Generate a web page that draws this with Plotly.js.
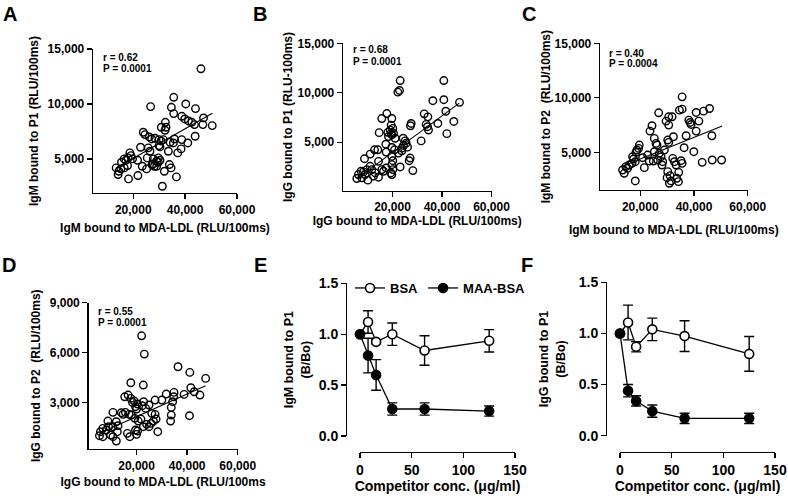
<!DOCTYPE html>
<html><head><meta charset="utf-8">
<script src="https://cdn.plot.ly/plotly-3.0.1.min.js"></script>
<style>html,body{margin:0;padding:0;background:#fff}#chart{width:788px;height:499px}</style>
</head><body><div id="chart"></div>
<script>
// ---------- DATA ----------
// Panel A: IgM MDA-LDL vs IgM P1
const aX = [46100,26710,35610,40260,44000,34710,35610,38710,39870,41290,42580,47100,46840,50450,43610,32390,30840,32260,32650,43870,23870,24520,26190,27100,28390,29940,30710,31610,35870,38710,41030,34190,35480,22840,25810,26450,29940,30320,38450,37160,33550,18710,19100,18060,17160,16520,15480,19740,21680,25420,27740,29680,30320,29680,29030,23480,25160,27230,28130,29030,27740,33940,34580,32000,13420,14190,15230,16520,17810,14450,18190,21810,36650,31230];
const aY = [13200,9758,10606,10000,9576,9697,9122,8879,8637,8455,8334,8728,8122,8031,8122,8334,7880,7607,7880,7061,7425,7213,7001,6819,6880,6758,6637,6758,6819,6758,6455,6516,6455,6061,6001,5698,6213,6092,5910,5546,5698,5546,5304,5092,4880,5001,4698,5001,4880,5092,5001,5092,4880,4698,4789,4334,4092,4486,4334,4334,4547,4486,4183,3880,4183,3577,4092,4183,4395,3880,3183,3486,3365,2516];
const aFitX = [13300, 50500];
const aFitY = [4150, 9150];

// Panel B: IgG MDA-LDL vs IgG P1
const bX = [23100,22830,22150,40740,40740,36300,47070,41550,32800,34280,38320,44780,33600,34140,34550,41950,31580,27540,27270,17710,15690,19730,19460,20130,18110,19460,20400,14610,18380,21080,19730,19060,24310,25120,25520,24440,26060,23770,17310,19730,20810,22420,23770,10980,12730,14070,8690,14340,17440,19730,20130,26730,27140,23100,28220,19730,20130,10980,9630,8280,15690,16360,17440,13000,14340,7340,6260,5590,7610,10030,11650,19330,19730,8960,12320];
const bY = [11233,10233,10067,11233,9300,9200,9033,8133,7867,7567,6900,7100,6800,6567,6233,5867,5133,6900,6667,7900,7400,7400,6733,6400,6000,5900,5900,5967,5567,5400,5733,6233,5400,5133,4900,4667,4500,4400,4800,4467,4233,3900,4133,3800,4233,4233,3333,3067,4000,3567,3133,3133,3400,2500,2133,2733,2233,2567,2233,2000,2233,2067,2400,1900,1467,2067,1733,1333,1400,1167,2233,1900,1733,1733,1567];
const bFitX = [5500, 47000];
const bFitY = [1300, 8950];

// Panel C: IgM MDA-LDL vs IgM P2
const cX = [35575,34580,35575,26850,30590,31840,29590,30590,40810,43550,45790,38070,38570,38940,41810,40810,37070,46660,24360,23610,25230,25860,26230,30220,30590,32340,19630,18750,18380,19380,17130,17510,22740,25230,27100,27730,28970,36320,39940,23360,24860,21500,28100,32090,32710,33330,35200,35580,43050,46790,50280,30220,31090,29970,31460,33580,34200,30840,34330,13400,14020,15270,15890,18130,16890,18130,14640,20870,26480,28350];
const cY = [10091,8872,8963,8628,8262,8262,7866,7500,8658,8780,9024,7957,7744,7561,7866,6951,6524,6524,7439,6951,6280,5823,5670,6128,5914,6433,5670,5213,5000,5366,4603,4390,4756,5061,4908,4603,5213,5427,5061,4207,4207,3597,3841,4451,4146,3841,4238,3994,4085,4299,4299,3231,2866,2683,2378,2622,2317,2164,3170,3384,3079,3536,3841,4146,3994,2378,3689,4512,4299,4146];
const cFitX = [12800, 50500];
const cFitY = [3690, 7410];

// Panel D: IgG MDA-LDL vs IgG P2
const dX = [22000,23070,36400,41070,47330,17730,22670,41470,42800,45070,38800,34800,34670,34270,31730,33730,33730,33470,40930,27330,24930,23600,22800,22270,20400,19070,19600,20000,15330,16670,17730,18400,14000,14670,15600,17070,18000,19330,20670,21730,26000,27330,27730,26670,25730,24000,24930,28400,10670,8670,12000,12670,10670,8930,8000,6670,5730,5330,6670,9730,10670,12400,12000,16400,17330,20000,20400,19600,22670,30000];
const dY = [7000,5900,5140,4800,4440,4180,4040,3880,3640,3440,3480,3600,3340,3040,3500,2700,2240,1880,2200,3140,2840,2640,3040,2800,2900,3080,2740,2600,3340,3440,3240,3000,2380,2280,2400,2280,2240,2040,1880,2000,2340,2280,2000,1880,1740,1680,1540,1240,2400,1880,1840,1600,1540,1540,1340,1440,1240,1000,940,1040,940,1240,680,1140,940,1080,1280,1340,1540,3140];
const dFitX = [5300, 47300];
const dFitY = [1140, 4000];

// Panels E/F: competition assays
const conc = [0, 7.8, 15.6, 31.25, 62.5, 125];
const eBSA = [1.0, 1.12, 0.925, 1.0, 0.84, 0.935];
const eBSAerr = [0, 0.11, 0.02, 0.11, 0.145, 0.11];
const eMAA = [1.0, 0.79, 0.60, 0.265, 0.265, 0.245];
const eMAAerr = [0, 0.17, 0.15, 0.06, 0.06, 0.05];
const fBSA = [1.0, 1.107, 0.87, 1.04, 0.974, 0.80];
const fBSAerr = [0, 0.17, 0.05, 0.11, 0.15, 0.17];
const fMAA = [1.0, 0.44, 0.34, 0.24, 0.17, 0.17];
const fMAAerr = [0, 0.06, 0.05, 0.06, 0.05, 0.05];

const xTicksScatter = [20000, 40000, 60000];
const yTicksP1 = [5000, 10000, 15000];
const yTicksD = [3000, 6000, 9000];
const xTicksConc = [0, 50, 100, 150];
const yTicksRatio = [0, 0.5, 1.0, 1.5];

// ---------- HELPERS ----------
const W = 788, H = 499;
const px = v => v / W;
const py = v => 1 - v / H;
const FONT = 'Liberation Sans, Arial, sans-serif';

function axis(o) {
  return Object.assign({
    showgrid: false, zeroline: false, showline: true, linecolor: '#000', linewidth: 1.3,
    ticks: 'outside', ticklen: 5, tickwidth: 1.3, tickcolor: '#000',
    tickmode: 'array', tickformat: ',d',
    tickfont: {family: FONT, size: 12, color: '#000', weight: 'bold'},
    fixedrange: true
  }, o);
}
function title(text, standoff, size) {
  return {text: text, standoff: standoff, font: {family: FONT, size: size || 12, color: '#000', weight: 'bold'}};
}
const bigTick = {family: FONT, size: 14, color: '#000', weight: 'bold'};

const scatterMarker = {symbol: 'circle-open', size: 7.5, color: '#000', line: {width: 1.4, color: '#000'}};

function scatterTraces(xs, ys, fx, fy, xa, ya) {
  return [
    {x: xs, y: ys, type: 'scatter', mode: 'markers', marker: scatterMarker, xaxis: xa, yaxis: ya, showlegend: false, cliponaxis: false},
    {x: fx, y: fy, type: 'scatter', mode: 'lines', line: {color: '#000', width: 1.1}, xaxis: xa, yaxis: ya, showlegend: false}
  ];
}
function compTraces(bsa, bsaErr, maa, maaErr, xa, ya, legend) {
  return [
    {x: conc, y: bsa, name: 'BSA', type: 'scatter', mode: 'lines+markers', xaxis: xa, yaxis: ya, showlegend: legend, cliponaxis: false,
     line: {color: '#000', width: 1.3}, marker: {symbol: 'circle', size: 9, color: '#fff', line: {color: '#000', width: 1.6}},
     error_y: {type: 'data', array: bsaErr, visible: true, color: '#000', thickness: 1.4, width: 5}},
    {x: conc, y: maa, name: 'MAA-BSA', type: 'scatter', mode: 'lines+markers', xaxis: xa, yaxis: ya, showlegend: legend, cliponaxis: false,
     line: {color: '#000', width: 1.3}, marker: {symbol: 'circle', size: 9, color: '#000', line: {color: '#000', width: 1.6}},
     error_y: {type: 'data', array: maaErr, visible: true, color: '#000', thickness: 1.4, width: 5}}
  ];
}

const data = [].concat(
  scatterTraces(aX, aY, aFitX, aFitY, 'x', 'y'),
  scatterTraces(bX, bY, bFitX, bFitY, 'x2', 'y2'),
  scatterTraces(cX, cY, cFitX, cFitY, 'x3', 'y3'),
  scatterTraces(dX, dY, dFitX, dFitY, 'x4', 'y4'),
  compTraces(eBSA, eBSAerr, eMAA, eMAAerr, 'x5', 'y5', true),
  compTraces(fBSA, fBSAerr, fMAA, fMAAerr, 'x6', 'y6', false)
);

const ratioFmt = '.1f';
const layout = {
  width: W, height: H, margin: {l: 0, r: 0, t: 0, b: 0},
  paper_bgcolor: '#fff', plot_bgcolor: 'rgba(0,0,0,0)',
  font: {family: FONT, color: '#000'},
  showlegend: true,
  legend: {orientation: 'h', x: px(350), y: py(288), xanchor: 'left', yanchor: 'middle',
           font: {family: FONT, size: 13, color: '#000', weight: 'bold'}, bgcolor: 'rgba(0,0,0,0)', itemwidth: 30, tracegroupgap: 0},
  // Panel A
  xaxis: axis({domain: [px(93), px(237)], range: [4500, 60000], tickvals: xTicksScatter, anchor: 'y',
               title: title('IgM bound to MDA-LDL (RLU/100ms)', 8)}),
  yaxis: axis({domain: [py(193), py(49)], range: [1900, 15000], tickvals: yTicksP1, anchor: 'x',
               title: title('IgM bound to P1 (RLU/100ms)', 6)}),
  // Panel B
  xaxis2: axis({domain: [px(343), px(491.5)], range: [0, 60000], tickvals: xTicksScatter, anchor: 'y2',
                title: title('IgG bound to MDA-LDL (RLU/100ms)', 2)}),
  yaxis2: axis({domain: [py(190.7), py(43.3)], range: [100, 15000], tickvals: yTicksP1, anchor: 'x2',
                title: title('IgG bound to P1 (RLU-100ms)', 2)}),
  // Panel C
  xaxis3: axis({domain: [px(600), px(747.7)], range: [5000, 60000], tickvals: xTicksScatter, anchor: 'y3',
                title: title('IgM bound to MDA-LDL (RLU/100ms)', 13)}),
  yaxis3: axis({domain: [py(190), py(43.3)], range: [1550, 15000], tickvals: yTicksP1, anchor: 'x3',
                title: title('IgM bound to P2  (RLU/100ms)', 1)}),
  // Panel D
  xaxis4: axis({domain: [px(88.5), px(237.7)], range: [1000, 60000], tickvals: xTicksScatter, anchor: 'y4',
                title: title('IgG bound to MDA-LDL (RLU/100ms', 6)}),
  yaxis4: axis({domain: [py(449), py(302.5)], range: [200, 9000], tickvals: yTicksD, anchor: 'x4',
                title: title('IgG bound to P2  (RLU/100ms)', 6)}),
  // Panel E
  xaxis5: axis({domain: [px(360), px(515)], range: [0, 150], tickvals: xTicksConc, anchor: 'free', position: py(452),
                tickfont: bigTick, title: title('Competitor conc. (\u03bcg/ml)', 3, 14)}),
  yaxis5: axis({domain: [py(436), py(283.3)], range: [0, 1.5], tickvals: yTicksRatio, tickformat: ratioFmt, anchor: 'free', position: px(346),
                tickfont: bigTick, title: title('IgM bound to P1<br>(B/Bo)', 4, 12.5)}),
  // Panel F
  xaxis6: axis({domain: [px(620), px(775)], range: [0, 150], tickvals: xTicksConc, anchor: 'free', position: py(452),
                tickfont: bigTick, title: title('Competitor conc. (\u03bcg/ml)', 3, 14)}),
  yaxis6: axis({domain: [py(435.7), py(282.3)], range: [0, 1.5], tickvals: yTicksRatio, tickformat: ratioFmt, anchor: 'free', position: px(606),
                tickfont: bigTick, title: title('IgG bound to P1<br>(B/Bo)', 9, 12.5)}),
  annotations: []
};

function note(text, x, y, size) {
  return {text: text, x: px(x), y: py(y), xref: 'paper', yref: 'paper', xanchor: 'left', yanchor: 'middle',
          showarrow: false, font: {family: FONT, size: size, color: '#000', weight: 'bold'}};
}
const stats = [
  ['r = 0.62', 'P = 0.0001', 101, 57, 68],
  ['r = 0.68', 'P = 0.0001', 351, 50, 61],
  ['r = 0.40', 'P = 0.0004', 607, 53, 63.5],
  ['r = 0.55', 'P = 0.0001', 96, 311, 322]
];
stats.forEach(s => { layout.annotations.push(note(s[0], s[2], s[3], 10)); layout.annotations.push(note(s[1], s[2], s[4], 10)); });
const letters = [['A', 1, 14], ['B', 251, 14], ['C', 520, 14], ['D', 0, 265], ['E', 252, 265], ['F', 519, 265]];
letters.forEach(l => layout.annotations.push(note(l[0], l[1], l[2], 20)));

Plotly.newPlot('chart', data, layout, {staticPlot: true, displayModeBar: false});
</script>
</body></html>
